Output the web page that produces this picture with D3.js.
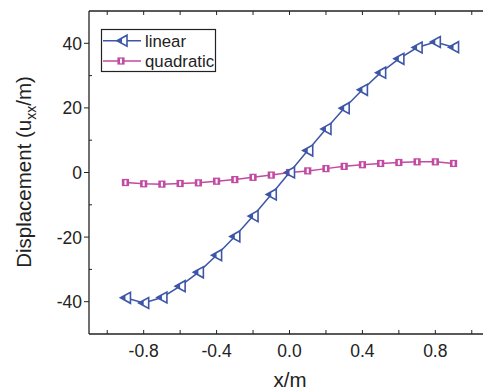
<!DOCTYPE html>
<html>
<head>
<meta charset="utf-8">
<script src="https://cdn.jsdelivr.net/npm/d3@7"></script>
<style>
  html, body { margin: 0; padding: 0; background: #fff; }
  svg { display: block; font-family: "Liberation Sans", Arial, sans-serif; }
</style>
</head>
<body>
<svg id="chart" width="483" height="392"></svg>
<script>
// Sample positions along the beam (m)
const xPositions = [-0.9, -0.8, -0.7, -0.6, -0.5, -0.4, -0.3, -0.2, -0.1, 0.0,
                    0.1, 0.2, 0.3, 0.4, 0.5, 0.6, 0.7, 0.8, 0.9];
// Displacement u_xx / m for the linear element
const linearValues = [-38.8, -40.4, -38.7, -35.2, -30.9, -25.6, -19.8, -13.5, -6.8, 0.0,
                      6.8, 13.5, 19.9, 25.6, 30.9, 35.2, 38.7, 40.4, 38.8];
// Displacement u_xx / m for the quadratic element
const quadraticValues = [-3.1, -3.5, -3.6, -3.4, -3.2, -2.7, -2.2, -1.5, -0.8, 0.0,
                         0.5, 1.2, 1.9, 2.4, 2.8, 3.1, 3.3, 3.3, 2.8];
const xTicks = [-0.8, -0.4, 0.0, 0.4, 0.8];
const xMinorTicks = [-1.0, -0.6, -0.2, 0.2, 0.6, 1.0];
const yTicks = [-40, -20, 0, 20, 40];
const yMinorTicks = [-30, -10, 10, 30];
const seriesNames = ["linear", "quadratic"];

const blue = "#3d56a8";
const magenta = "#c24aa2";

const svg = d3.select("#chart");
const x = d3.scaleLinear().domain([-1.1, 1.1]).range([89, 490]);
const y = d3.scaleLinear().domain([-50, 50]).range([334, 11]);

// Plain hyphen for negative numbers
const fmtX = d => d3.format(".1f")(d).replace("\u2212", "-");
const fmtY = d => String(d);

// Frame
const axisColor = "#222";
svg.append("line").attr("x1", 89).attr("x2", 483).attr("y1", 11).attr("y2", 11)
  .attr("stroke", axisColor).attr("stroke-width", 1.3);
svg.append("line").attr("x1", 89).attr("x2", 483).attr("y1", 334).attr("y2", 334)
  .attr("stroke", axisColor).attr("stroke-width", 1.3);
svg.append("line").attr("x1", 89).attr("x2", 89).attr("y1", 11).attr("y2", 334)
  .attr("stroke", axisColor).attr("stroke-width", 1.3);

// Bottom axis: inward ticks
const allX = xTicks.concat(xMinorTicks);
svg.append("g").selectAll("line").data(allX).join("line")
  .attr("x1", d => x(d)).attr("x2", d => x(d))
  .attr("y1", 334).attr("y2", 330)
  .attr("stroke", axisColor).attr("stroke-width", 1);
// Top axis: inward ticks
svg.append("g").selectAll("line").data(allX).join("line")
  .attr("x1", d => x(d)).attr("x2", d => x(d))
  .attr("y1", 11).attr("y2", 15)
  .attr("stroke", axisColor).attr("stroke-width", 1);
// Bottom tick labels
svg.append("g").selectAll("text").data(xTicks).join("text")
  .attr("x", d => x(d)).attr("y", 357)
  .attr("text-anchor", "middle")
  .attr("font-size", 17.5).attr("fill", "#222")
  .text(fmtX);

// Left axis: major ticks outward, minor inward
svg.append("g").selectAll("line").data(yTicks).join("line")
  .attr("x1", 84).attr("x2", 89)
  .attr("y1", d => y(d)).attr("y2", d => y(d))
  .attr("stroke", axisColor).attr("stroke-width", 1);
svg.append("g").selectAll("line").data(yMinorTicks).join("line")
  .attr("x1", 89).attr("x2", 92)
  .attr("y1", d => y(d)).attr("y2", d => y(d))
  .attr("stroke", axisColor).attr("stroke-width", 1);
svg.append("g").selectAll("text").data(yTicks).join("text")
  .attr("x", 82).attr("y", d => y(d) + 6.5)
  .attr("text-anchor", "end")
  .attr("font-size", 17.5).attr("fill", "#222")
  .text(fmtY);

// Axis titles
svg.append("text")
  .attr("x", 290).attr("y", 387)
  .attr("text-anchor", "middle")
  .attr("font-size", 20.5).attr("fill", "#222")
  .text("x/m");

const yTitle = svg.append("text")
  .attr("transform", "translate(31,172) rotate(-90)")
  .attr("text-anchor", "middle")
  .attr("font-size", 20.5).attr("fill", "#222");
yTitle.append("tspan").text("Displacement (u");
yTitle.append("tspan").attr("font-size", 14).attr("dy", 5).text("xx");
yTitle.append("tspan").attr("dy", -5).text("/m)");

// Series
const line = d3.line().x(d => x(d[0])).y(d => y(d[1]));
const linearData = xPositions.map((v, i) => [v, linearValues[i]]);
const quadData = xPositions.map((v, i) => [v, quadraticValues[i]]);

function triangle(g, cx, cy, color) {
  const w = 5, h = 5.5;
  g.append("path")
    .attr("d", `M${cx - w},${cy} L${cx + w},${cy - h} L${cx + w},${cy + h} Z`)
    .attr("fill", "#fff").attr("stroke", color).attr("stroke-width", 1.6)
    .attr("stroke-linejoin", "miter");
  g.append("path")
    .attr("d", `M${cx - w},${cy} L${cx},${cy - h / 2} L${cx},${cy + h / 2} Z`)
    .attr("fill", color);
}
function square(g, cx, cy, color) {
  const s = 3.6;
  g.append("rect")
    .attr("x", cx - s).attr("y", cy - s).attr("width", 2 * s).attr("height", 2 * s)
    .attr("fill", color);
  g.append("rect")
    .attr("x", cx - 1).attr("y", cy - 2.3).attr("width", 2).attr("height", 4.6)
    .attr("fill", "#fff");
}

svg.append("path").datum(quadData).attr("d", line)
  .attr("fill", "none").attr("stroke", magenta).attr("stroke-width", 1.5);
const qg = svg.append("g");
quadData.forEach(d => square(qg, x(d[0]), y(d[1]), magenta));

svg.append("path").datum(linearData).attr("d", line)
  .attr("fill", "none").attr("stroke", blue).attr("stroke-width", 1.5);
const lg = svg.append("g");
linearData.forEach(d => triangle(lg, x(d[0]), y(d[1]), blue));

// Legend
const legend = svg.append("g");
legend.append("rect")
  .attr("x", 101.5).attr("y", 29.5).attr("width", 114).attr("height", 42)
  .attr("fill", "#fff").attr("stroke", "#222").attr("stroke-width", 1.2);
const legendColors = [blue, magenta];
seriesNames.forEach((name, i) => {
  const ly = 40.7 + i * 20.3;
  legend.append("line")
    .attr("x1", 103).attr("x2", 141).attr("y1", ly).attr("y2", ly)
    .attr("stroke", legendColors[i]).attr("stroke-width", 1.5);
  if (i === 0) triangle(legend, 122, ly, blue);
  else square(legend, 121, ly, magenta);
  legend.append("text")
    .attr("x", 145).attr("y", ly + 5.8)
    .attr("font-size", 16.8).attr("fill", "#222")
    .text(name);
});
</script>
</body>
</html>
